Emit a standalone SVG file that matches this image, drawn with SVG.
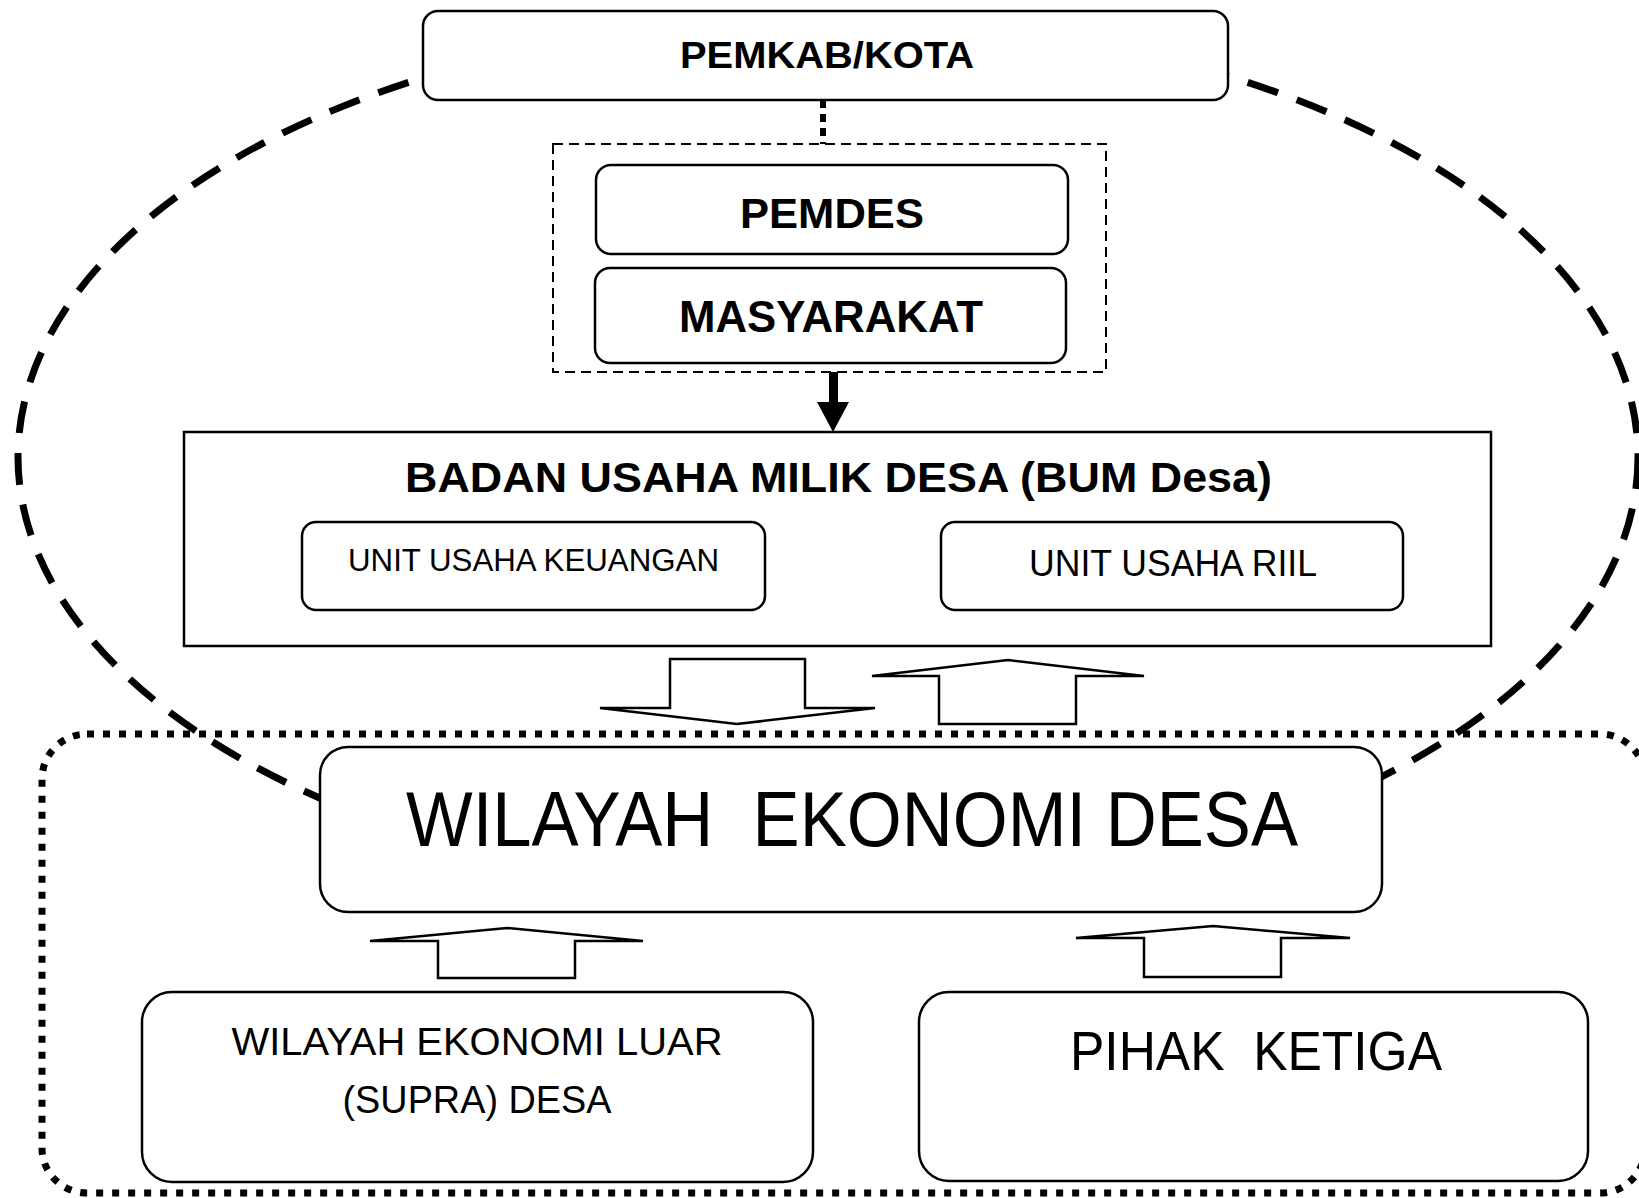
<svg xmlns="http://www.w3.org/2000/svg" width="1639" height="1198" viewBox="0 0 1639 1198">
<style>
.box{fill:#fff;stroke:#000;stroke-width:2.5}
.blk{fill:#fff;stroke:#000;stroke-width:2.5;stroke-linejoin:miter}
.t{font-family:"Liberation Sans",Arial,sans-serif;fill:#000;text-anchor:middle}
.b{font-weight:bold}
</style>
<rect width="1639" height="1198" fill="#fff"/>
<g id="region-boundary">
<rect x="42" y="734" width="1603" height="459" rx="45" ry="45" fill="none" stroke="#000" stroke-width="7" stroke-dasharray="7 9"/>
</g>
<g id="scope-ellipse">
<ellipse cx="828" cy="457" rx="810" ry="438" fill="none" stroke="#000" stroke-width="7" stroke-dasharray="32 20"/>
</g>
<g id="connectors">
<line x1="823" y1="100" x2="823" y2="144" stroke="#000" stroke-width="6" stroke-dasharray="8 6"/>
<polygon points="829,372 838,372 838,402 849,402 833,432 817,402 829,402" fill="#000"/>
<polygon class="blk" points="792,562 818,535 818,549 885,549 885,535 909,562 885,589 885,575 818,575 818,589"/>
<polygon class="blk" points="670,659 805,659 805,708 875,708 737,724 600,708 670,708"/>
<polygon class="blk" points="939,724 1076,724 1076,676 1144,676 1008,660 872,676 939,676"/>
<polygon class="blk" points="438,978 575,978 575,941 643,941 507,928 370,941 438,941"/>
<polygon class="blk" points="1144,977 1281,977 1281,938 1350,938 1213,926 1076,938 1144,938"/>
</g>
<g id="pemkab">
<rect class="box" x="423" y="11" width="805" height="89" rx="15"/>
<text class="t b" x="827" y="68" font-size="37" textLength="294" lengthAdjust="spacingAndGlyphs">PEMKAB/KOTA</text>
</g>
<g id="desa-group">
<rect x="553" y="144" width="553" height="228" fill="none" stroke="#000" stroke-width="2" stroke-dasharray="10 6"/>
</g>
<g id="pemdes">
<rect class="box" x="596" y="165" width="472" height="89" rx="15"/>
<text class="t b" x="832" y="228" font-size="43" textLength="184" lengthAdjust="spacingAndGlyphs">PEMDES</text>
</g>
<g id="masyarakat">
<rect class="box" x="595" y="268" width="471" height="95" rx="15"/>
<text class="t b" x="831" y="332" font-size="44" textLength="304" lengthAdjust="spacingAndGlyphs">MASYARAKAT</text>
</g>
<g id="bumdesa">
<rect class="box" x="184" y="432" width="1307" height="214"/>
<text class="t b" x="838.5" y="492" font-size="42" textLength="867" lengthAdjust="spacingAndGlyphs">BADAN USAHA MILIK DESA (BUM Desa)</text>
</g>
<g id="unit-keuangan">
<rect class="box" x="302" y="522" width="463" height="88" rx="14"/>
<text class="t" x="533.5" y="571" font-size="31" textLength="371" lengthAdjust="spacingAndGlyphs">UNIT USAHA KEUANGAN</text>
</g>
<g id="unit-riil">
<rect class="box" x="941" y="522" width="462" height="88" rx="14"/>
<text class="t" x="1173" y="576" font-size="36" textLength="288" lengthAdjust="spacingAndGlyphs">UNIT USAHA RIIL</text>
</g>
<g id="wilayah-desa">
<rect class="box" x="320" y="747" width="1062" height="165" rx="28"/>
<text class="t" x="852" y="846" font-size="77" textLength="892" lengthAdjust="spacingAndGlyphs" xml:space="preserve">WILAYAH  EKONOMI DESA</text>
</g>
<g id="wilayah-luar">
<rect class="box" x="142" y="992" width="671" height="190" rx="30"/>
<text class="t" x="477" y="1055" font-size="39" textLength="491" lengthAdjust="spacingAndGlyphs">WILAYAH EKONOMI LUAR</text>
<text class="t" x="477" y="1113" font-size="39" textLength="269" lengthAdjust="spacingAndGlyphs">(SUPRA) DESA</text>
</g>
<g id="pihak-ketiga">
<rect class="box" x="919" y="992" width="669" height="189" rx="30"/>
<text class="t" x="1256" y="1070" font-size="56" textLength="372" lengthAdjust="spacingAndGlyphs" xml:space="preserve">PIHAK  KETIGA</text>
</g>
</svg>
